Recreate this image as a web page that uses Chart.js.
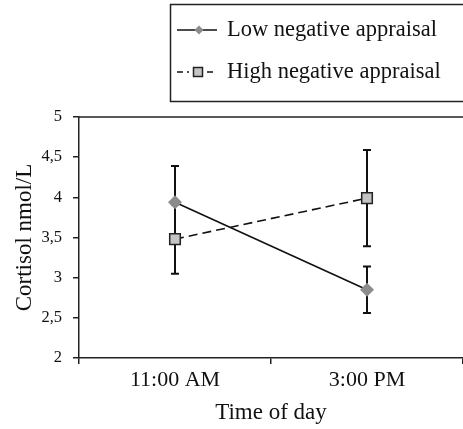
<!DOCTYPE html>
<html>
<head>
<meta charset="utf-8">
<script src="https://cdn.jsdelivr.net/npm/chart.js@4/dist/chart.umd.min.js"></script>
<style>
  html, body { margin: 0; padding: 0; background: #fff; }
  #wrap { width: 463px; height: 429px; }
</style>
</head>
<body>
<div id="wrap"><canvas id="cortisolChart" width="463" height="429"></canvas></div>
<script>
// Data
const times = ['11:00 AM', '3:00 PM'];
const lowMeans = [3.94, 2.85];
const lowErrors = [0.45, 0.29];
const highMeans = [3.48, 3.99];
const highErrors = [0.43, 0.60];
const seriesLabels = ['Low negative appraisal', 'High negative appraisal'];

const serif = "'Liberation Serif', 'DejaVu Serif', serif";

// Error bars drawn under the markers
const errorBars = {
    id: 'errorBars',
    beforeDatasetsDraw(chart) {
        const ctx = chart.ctx;
        const y = chart.scales.y;
        ctx.save();
        ctx.strokeStyle = '#111';
        ctx.lineWidth = 2;
        chart.data.datasets.forEach((ds, i) => {
            const meta = chart.getDatasetMeta(i);
            meta.data.forEach((pt, j) => {
                const top = y.getPixelForValue(ds.data[j] + ds.errors[j]);
                const bot = y.getPixelForValue(ds.data[j] - ds.errors[j]);
                ctx.beginPath();
                ctx.moveTo(pt.x, top); ctx.lineTo(pt.x, bot);
                ctx.moveTo(pt.x - 4, top); ctx.lineTo(pt.x + 4, top);
                ctx.moveTo(pt.x - 4, bot); ctx.lineTo(pt.x + 4, bot);
                ctx.stroke();
            });
        });
        ctx.restore();
    }
};

// Top frame line and boxed legend
const frameAndLegend = {
    id: 'frameAndLegend',
    afterDraw(chart) {
        const ctx = chart.ctx;
        const area = chart.chartArea;
        ctx.save();
        ctx.strokeStyle = '#222';
        ctx.lineWidth = 1.5;
        ctx.beginPath();
        ctx.moveTo(area.left, area.top);
        ctx.lineTo(area.right, area.top);
        ctx.stroke();

        // legend box
        ctx.strokeRect(170.5, 4.5, 310, 97);
        ctx.font = '22.5px ' + serif;
        ctx.fillStyle = '#111';
        ctx.textBaseline = 'middle';
        const rows = [30, 72];
        chart.data.datasets.forEach((ds, i) => {
            const yy = rows[i];
            ctx.save();
            ctx.strokeStyle = '#111';
            ctx.lineWidth = 1.6;
            ctx.setLineDash(ds.borderDash ? [6, 4] : []);
            ctx.beginPath();
            ctx.moveTo(177, yy); ctx.lineTo(217, yy);
            ctx.stroke();
            ctx.restore();
            ctx.save();
            ctx.fillStyle = ds.pointBackgroundColor;
            ctx.strokeStyle = ds.pointBorderColor;
            ctx.lineWidth = ds.pointBorderWidth;
            if (ds.pointStyle === 'rectRot') {
                ctx.beginPath();
                ctx.moveTo(199 - 4.5, yy); ctx.lineTo(199, yy - 4.5);
                ctx.lineTo(199 + 4.5, yy); ctx.lineTo(199, yy + 4.5);
                ctx.closePath();
                ctx.fill();
            } else {
                ctx.clearRect(189, yy - 6, 16, 12);
                ctx.fillRect(193.5, yy - 4.5, 9, 9);
                ctx.strokeRect(193.5, yy - 4.5, 9, 9);
            }
            ctx.restore();
            ctx.fillText(ds.label, 227, yy);
        });
        ctx.restore();
    }
};

const ctx = document.getElementById('cortisolChart').getContext('2d');
new Chart(ctx, {
    type: 'line',
    data: {
        labels: times,
        datasets: [
            {
                label: seriesLabels[0],
                data: lowMeans,
                errors: lowErrors,
                borderColor: '#111',
                borderWidth: 1.6,
                pointStyle: 'rectRot',
                pointRadius: 7,
                pointBackgroundColor: '#8c8c8c',
                pointBorderColor: '#8c8c8c',
                pointBorderWidth: 0,
                fill: false
            },
            {
                label: seriesLabels[1],
                data: highMeans,
                errors: highErrors,
                borderColor: '#111',
                borderWidth: 1.6,
                borderDash: [9, 5],
                pointStyle: 'rect',
                pointRadius: 7.5,
                pointBackgroundColor: '#c4c4c4',
                pointBorderColor: '#222',
                pointBorderWidth: 1.5,
                fill: false
            }
        ]
    },
    options: {
        responsive: false,
        animation: false,
        layout: { autoPadding: false, padding: { top: 117, left: 0, right: 0, bottom: 0 } },
        plugins: {
            legend: { display: false },
            tooltip: { enabled: false }
        },
        scales: {
            x: {
                offset: true,
                grid: { drawOnChartArea: false, tickLength: 6, color: '#222', lineWidth: 1.5, offset: true },
                border: { color: '#222', width: 1.5 },
                ticks: { color: '#111', font: { family: serif, size: 22 }, padding: 3 },
                title: { display: true, text: 'Time of day', color: '#111', font: { family: serif, size: 23 }, padding: { top: 0, bottom: 2 } },
                afterFit(scale) { scale.height = 71; }
            },
            y: {
                min: 2,
                max: 5,
                ticks: {
                    stepSize: 0.5,
                    color: '#111',
                    font: { family: serif, size: 16.5 },
                    padding: 11,
                    callback: v => String(v).replace('.', ',')
                },
                grid: { drawOnChartArea: false, tickLength: 6, color: '#222', lineWidth: 1.5 },
                border: { color: '#222', width: 1.5 },
                title: { display: true, text: 'Cortisol nmol/L', color: '#111', font: { family: serif, size: 23 }, padding: { top: 11, bottom: 0 } },
                afterFit(scale) { scale.width = 79; }
            }
        }
    },
    plugins: [errorBars, frameAndLegend]
});
</script>
</body>
</html>
